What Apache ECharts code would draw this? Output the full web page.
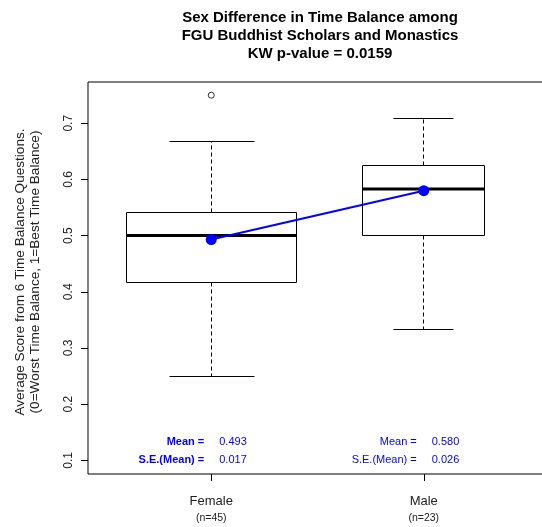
<!DOCTYPE html>
<html>
<head>
<meta charset="utf-8">
<script src="https://cdn.jsdelivr.net/npm/echarts@6/dist/echarts.min.js"></script>
<style>
html,body{margin:0;padding:0;background:#fff;}
#chart{width:542px;height:527px;}
</style>
</head>
<body>
<div id="chart"></div>
<script>
// ---- data ----
const categories = ['Female', 'Male'];
const sampleSizes = [45, 23];
const lowerWhisker = [0.25, 0.333];
const q1 = [0.417, 0.5];
const medians = [0.5, 0.583];
const q3 = [0.542, 0.625];
const upperWhisker = [0.667, 0.708];
const outlierGroup = [0];
const outlierValue = [0.75];
const means = [0.493, 0.580];
const seMeans = [0.017, 0.026];
const yTicks = [0.1, 0.2, 0.3, 0.4, 0.5, 0.6, 0.7];
const titleLines = ['Sex Difference in Time Balance among', 'FGU Buddhist Scholars and Monastics', 'KW p-value = 0.0159'];
const yTitleLines = ['Average Score from 6 Time Balance Questions.', '(0=Worst Time Balance, 1=Best Time Balance)'];

const FONT = '"Liberation Sans", Arial, Helvetica, sans-serif';
const maxN = Math.max.apply(null, sampleSizes);
const boxData = categories.map((c, i) => [i + 1, lowerWhisker[i], q1[i], medians[i], q3[i], upperWhisker[i], 0.8 * Math.sqrt(sampleSizes[i] / maxN)]);
const meanData = categories.map((c, i) => [i + 1, means[i]]);
const outlierData = outlierGroup.map((g, k) => [g + 1, outlierValue[k]]);

function crisp(v) { return Math.round(v - 0.5) + 0.5; }

const chart = echarts.init(document.getElementById('chart'), null, {renderer: 'canvas'});

const option = {
  backgroundColor: '#fff',
  animation: false,
  grid: {left: 88, top: 82, right: -5, bottom: 53, outerBoundsMode: 'none', containLabel: false,
    show: true, borderColor: '#000', borderWidth: 1, backgroundColor: 'transparent'},
  xAxis: {
    type: 'value', min: 0.42, max: 2.58,
    splitLine: {show: false},
    axisLine: {show: false},
    axisTick: {show: true, customValues: [1, 2], length: 7, lineStyle: {color: '#000', width: 1}},
    axisLabel: {
      customValues: [1, 2], margin: 19,
      formatter: function (v) {
        const i = Math.round(v) - 1;
        return '{a|' + categories[i] + '}\n{b|(n=' + sampleSizes[i] + ')}';
      },
      rich: {
        a: {fontFamily: FONT, fontSize: 13, color: '#222', lineHeight: 17, align: 'center'},
        b: {fontFamily: FONT, fontSize: 10.5, color: '#222', lineHeight: 17, align: 'center'}
      }
    }
  },
  yAxis: {
    type: 'value', min: 0.0756, max: 0.7735,
    splitLine: {show: false},
    axisLine: {show: false},
    axisTick: {show: true, customValues: yTicks, length: 7, lineStyle: {color: '#000', width: 1}},
    axisLabel: {customValues: yTicks, rotate: 90, margin: 13, fontFamily: FONT, fontSize: 12, color: '#222',
      formatter: function (v) { return v.toFixed(1); }}
  },
  series: [
    {
      type: 'custom',
      name: 'box',
      data: boxData,
      clip: false,
      renderItem: function (params, api) {
        const x = api.value(0);
        const cx = crisp(api.coord([x, 0.5])[0]);
        const halfW = api.size([api.value(6), 0])[0] / 2;
        const yLow = crisp(api.coord([x, api.value(1)])[1]);
        const yQ1 = crisp(api.coord([x, api.value(2)])[1]);
        const yMed = api.coord([x, api.value(3)])[1];
        const yQ3 = crisp(api.coord([x, api.value(4)])[1]);
        const yUp = crisp(api.coord([x, api.value(5)])[1]);
        const left = crisp(cx - halfW), right = crisp(cx + halfW);
        const capL = crisp(cx - halfW / 2), capR = crisp(cx + halfW / 2);
        const dash = {stroke: '#000', lineWidth: 1, lineDash: [4, 3]};
        const solid = {stroke: '#000', lineWidth: 1};
        return {
          type: 'group',
          children: [
            {type: 'line', shape: {x1: cx, y1: yQ3, x2: cx, y2: yUp}, style: dash},
            {type: 'line', shape: {x1: cx, y1: yQ1, x2: cx, y2: yLow}, style: dash},
            {type: 'line', shape: {x1: capL, y1: yUp, x2: capR, y2: yUp}, style: solid},
            {type: 'line', shape: {x1: capL, y1: yLow, x2: capR, y2: yLow}, style: solid},
            {type: 'rect', shape: {x: left, y: yQ3, width: right - left, height: yQ1 - yQ3}, style: {fill: 'none', stroke: '#000', lineWidth: 1}},
            {type: 'line', shape: {x1: left, y1: yMed, x2: right, y2: yMed}, style: {stroke: '#000', lineWidth: 3}}
          ]
        };
      },
      z: 2
    },
    {
      type: 'scatter', name: 'outliers', data: outlierData,
      symbol: 'circle', symbolSize: 6,
      itemStyle: {color: '#fff', borderColor: '#000', borderWidth: 1},
      z: 3
    },
    {
      type: 'line', name: 'mean', data: meanData,
      symbol: 'circle', symbolSize: 11, showSymbol: true,
      lineStyle: {color: '#0000ff', width: 2},
      itemStyle: {color: '#0000ff'},
      z: 4
    }
  ],
  graphic: []
};
chart.setOption(option);

// titles and annotations
const graphics = [];
graphics.push({
  type: 'text', x: 320, y: 8.5,
  style: {text: titleLines.join('\n'), font: 'bold 15px ' + FONT, fill: '#000', textAlign: 'center', textVerticalAlign: 'top', lineHeight: 18.3}
});
const yTitleX = [20, 35.5];
yTitleLines.forEach(function (t, k) {
  graphics.push({
    type: 'text', x: yTitleX[k], y: 272, rotation: Math.PI / 2,
    style: {text: t, font: '13.6px ' + FONT, fill: '#222', textAlign: 'center', textVerticalAlign: 'middle'}
  });
});
categories.forEach(function (c, i) {
  const px = chart.convertToPixel({gridIndex: 0}, [i + 1, 0.1]);
  const cx = px[0];
  const bold = i === 0 ? 'bold ' : '';
  const rows = [['Mean =', means[i].toFixed(3), 442], ['S.E.(Mean) =', seMeans[i].toFixed(3), 460]];
  rows.forEach(function (r) {
    graphics.push({type: 'text', x: cx - 7, y: r[2], style: {text: r[0], font: bold + '11px ' + FONT, fill: '#0000ff', textAlign: 'right', textVerticalAlign: 'middle'}});
    graphics.push({type: 'text', x: cx + 8, y: r[2], style: {text: r[1], font: '11px ' + FONT, fill: '#0000ff', textAlign: 'left', textVerticalAlign: 'middle'}});
  });
});
chart.setOption({graphic: graphics});
</script>
</body>
</html>
